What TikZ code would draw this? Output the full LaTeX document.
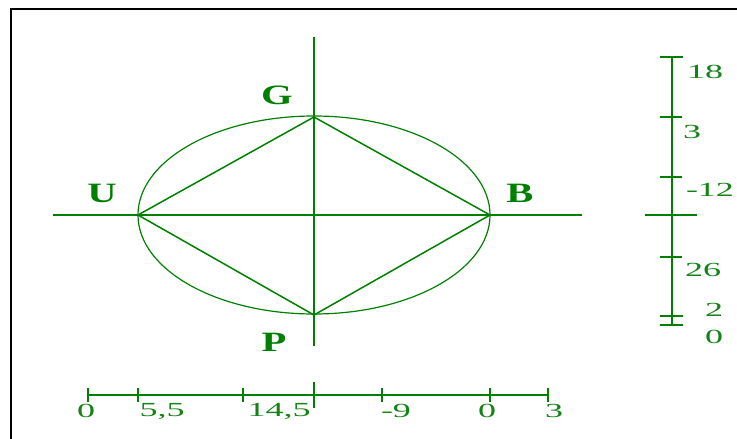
\documentclass[tikz,border=0pt]{standalone}
\usepackage{fontspec}
\setmainfont{Liberation Serif}
\usepackage{graphicx}
\definecolor{gr}{RGB}{0,128,0}
\definecolor{grt}{RGB}{20,130,20}
\tikzset{
  ln/.style={draw=gr, line width=1.5pt},
  thin/.style={draw=gr, line width=1.2pt},
  tick/.style={draw=gr, line width=2.8pt},
  lab/.style={text=gr, font=\fontsize{28}{30}\selectfont\bfseries, inner sep=0pt},
  num/.style={text=grt, font=\fontsize{20}{22}\selectfont, inner sep=0pt},
}
\newcommand{\wide}[1]{\scalebox{1.45}[1]{#1}}
\newcommand{\wnum}[1]{\scalebox{1.8}[1]{#1}}
\begin{document}
\begin{tikzpicture}[x=1pt,y=-1pt]
\useasboundingbox (0,0) rectangle (737,439);
% frame
\draw[black, line width=2.6pt] (737,9) -- (11,9) -- (11,439);
% main points
\coordinate (O) at (314,215);
\coordinate (G) at (314,117);
\coordinate (P) at (314,315);
\coordinate (U) at (138,215);
\coordinate (B) at (490,215);
\coordinate (vt) at (314,37);
\coordinate (vb) at (314,346);
\coordinate (hl) at (53,215);
\coordinate (hr) at (582,215);
\draw[thin] (O) ellipse [x radius=176pt, y radius=99pt];
\draw[ln] (vt) -- (vb);
\draw[ln] (hl) -- (hr);
\draw[ln] (G) -- (B) -- (P) -- (U) -- cycle;
\draw[ln] (U) -- (B);
\node[lab] (gl) at (277,95) {\wide{G}};
\node[lab] (ul) at (102,193) {\wide{U}};
\node[lab] (bl) at (520,193) {\wide{B}};
\node[lab] (pl) at (274,342) {\wide{P}};
% bottom scale
\coordinate (b0) at (88,395);
\coordinate (b1) at (138,395);
\coordinate (b2) at (243,395);
\coordinate (b3) at (382,395);
\coordinate (b4) at (490,395);
\coordinate (b5) at (548,395);
\draw[ln] (b0) -- (b5);
\foreach \p in {b0,b1,b2,b3,b4,b5}
  \draw[tick] ([yshift=7pt]\p) -- ([yshift=-7pt]\p);
\coordinate (bct) at (314,382);
\coordinate (bcb) at (314,408);
\draw[thin] (bct) -- (bcb);
\node[num] (n0) at (86,411) {\wnum{0}};
\node[num] (n1) at (162,411) {\wnum{5,5}};
\node[num] (n2) at (279,411) {\wnum{14,5}};
\node[num] (n3) at (396,411) {\wnum{-9}};
\node[num] (n4) at (487,411) {\wnum{0}};
\node[num] (n5) at (554,411) {\wnum{3}};
% right scale
\coordinate (r0) at (672,57);
\coordinate (r1) at (672,117);
\coordinate (r2) at (672,177);
\coordinate (r3) at (672,257);
\coordinate (r4) at (672,316);
\coordinate (r5) at (672,325);
\draw[ln] (r0) -- (r5);
\foreach \p in {r0,r4,r5}
  \draw[tick] ([xshift=-12pt]\p) -- ([xshift=11pt]\p);
\foreach \p in {r1,r2,r3}
  \draw[ln] ([xshift=-12pt]\p) -- ([xshift=10pt]\p);
\coordinate (rcl) at (645,215);
\coordinate (rcr) at (697,215);
\draw[thin] (rcl) -- (rcr);
\node[num] (m0) at (705,72) {\wnum{18}};
\node[num] (m1) at (692,132) {\wnum{3}};
\node[num] (m2) at (710,190) {\wnum{-12}};
\node[num] (m3) at (703,270) {\wnum{26}};
\node[num] (m4) at (714,310) {\wnum{2}};
\node[num] (m5) at (714,337) {\wnum{0}};
\end{tikzpicture}
\end{document}
